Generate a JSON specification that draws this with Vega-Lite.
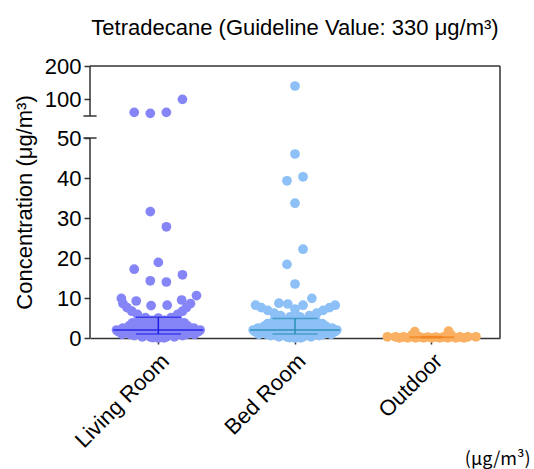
{
  "$schema": "https://vega.github.io/schema/vega-lite/v6.json",
  "width": 410,
  "height": 272,
  "autosize": "none",
  "padding": {"left": 90, "top": 66, "right": 34, "bottom": 131},
  "config": {
    "font": "Liberation Sans",
    "view": {"stroke": null},
    "axis": {"domainColor": "#333333", "tickColor": "#333333", "labelColor": "#000000", "titleColor": "#000000", "grid": false, "domainWidth": 1.5, "tickWidth": 1.5},
    "axisY": {"domain": false, "tickSize": 6, "labelFontSize": 22, "labelPadding": 3, "labelOverlap": false, "labelBound": false, "labelFlush": false, "titleFontSize": 22, "titleFontWeight": "normal", "titlePadding": 8}
  },
  "title": {"text": "Tetradecane (Guideline Value: 330 μg/m³)", "fontSize": 22, "fontWeight": "normal", "offset": 15, "color": "#000000"},
  "datasets": {
    "pts": [
      {"loc": "Living Room", "v": 100, "dx": 3}, {"loc": "Living Room", "v": 61, "dx": -3}, {"loc": "Living Room", "v": 58, "dx": -1}, {"loc": "Living Room", "v": 61, "dx": 1},
      {"loc": "Living Room", "v": 31.6, "dx": -1}, {"loc": "Living Room", "v": 27.8, "dx": 1}, {"loc": "Living Room", "v": 18.9, "dx": 0}, {"loc": "Living Room", "v": 17.2, "dx": -3}, {"loc": "Living Room", "v": 15.8, "dx": 3}, {"loc": "Living Room", "v": 14.3, "dx": -1}, {"loc": "Living Room", "v": 14.0, "dx": 1},
      {"loc": "Living Room", "v": 10.6, "dx": 4.75}, {"loc": "Living Room", "v": 9.9, "dx": -4.6}, {"loc": "Living Room", "v": 9.5, "dx": 2.9}, {"loc": "Living Room", "v": 9.25, "dx": -2.75}, {"loc": "Living Room", "v": 8.2, "dx": 1.1}, {"loc": "Living Room", "v": 8.1, "dx": -0.9},
      {"loc": "Living Room", "v": 8.6, "dx": -4.4}, {"loc": "Living Room", "v": 7.6, "dx": -3.9}, {"loc": "Living Room", "v": 6.7, "dx": -3.3}, {"loc": "Living Room", "v": 5.9, "dx": -2.6},
      {"loc": "Living Room", "v": 8.6, "dx": 4.0}, {"loc": "Living Room", "v": 7.6, "dx": 3.5}, {"loc": "Living Room", "v": 6.7, "dx": 3.0}, {"loc": "Living Room", "v": 5.9, "dx": 2.4},
      {"loc": "Living Room", "v": 5.1, "dx": -1.6}, {"loc": "Living Room", "v": 5.0, "dx": 0}, {"loc": "Living Room", "v": 5.1, "dx": 1.6},
      {"loc": "Living Room", "v": 4.5, "dx": -2.4}, {"loc": "Living Room", "v": 4.4, "dx": -0.8}, {"loc": "Living Room", "v": 4.4, "dx": 0.8}, {"loc": "Living Room", "v": 4.5, "dx": 2.4},
      {"loc": "Living Room", "v": 3.8, "dx": -3.2}, {"loc": "Living Room", "v": 3.8, "dx": -1.6}, {"loc": "Living Room", "v": 3.7, "dx": 0}, {"loc": "Living Room", "v": 3.8, "dx": 1.6}, {"loc": "Living Room", "v": 3.8, "dx": 3.2},
      {"loc": "Living Room", "v": 3.1, "dx": -3.6}, {"loc": "Living Room", "v": 3.1, "dx": -2.4}, {"loc": "Living Room", "v": 3.0, "dx": -0.8}, {"loc": "Living Room", "v": 3.0, "dx": 0.8}, {"loc": "Living Room", "v": 3.1, "dx": 2.4}, {"loc": "Living Room", "v": 3.1, "dx": 3.6},
      {"loc": "Living Room", "v": 2.5, "dx": -4.4}, {"loc": "Living Room", "v": 2.4, "dx": -3.0}, {"loc": "Living Room", "v": 2.4, "dx": -1.5}, {"loc": "Living Room", "v": 2.3, "dx": 0}, {"loc": "Living Room", "v": 2.4, "dx": 1.5}, {"loc": "Living Room", "v": 2.4, "dx": 3.0}, {"loc": "Living Room", "v": 2.5, "dx": 4.4},
      {"loc": "Living Room", "v": 2.0, "dx": -5.2}, {"loc": "Living Room", "v": 2.0, "dx": -4.2}, {"loc": "Living Room", "v": 2.0, "dx": -3.2}, {"loc": "Living Room", "v": 2.0, "dx": -2.2}, {"loc": "Living Room", "v": 2.0, "dx": -1.2}, {"loc": "Living Room", "v": 2.0, "dx": 1.2}, {"loc": "Living Room", "v": 2.0, "dx": 2.2}, {"loc": "Living Room", "v": 2.0, "dx": 3.2}, {"loc": "Living Room", "v": 2.0, "dx": 4.2}, {"loc": "Living Room", "v": 2.0, "dx": 5.2},
      {"loc": "Living Room", "v": 1.6, "dx": -5.0}, {"loc": "Living Room", "v": 1.6, "dx": -4.0}, {"loc": "Living Room", "v": 1.6, "dx": -3.0}, {"loc": "Living Room", "v": 1.6, "dx": -2.0}, {"loc": "Living Room", "v": 1.6, "dx": -1.0}, {"loc": "Living Room", "v": 1.6, "dx": 0}, {"loc": "Living Room", "v": 1.6, "dx": 1.0}, {"loc": "Living Room", "v": 1.6, "dx": 2.0}, {"loc": "Living Room", "v": 1.6, "dx": 3.0}, {"loc": "Living Room", "v": 1.6, "dx": 4.0}, {"loc": "Living Room", "v": 1.6, "dx": 5.0},
      {"loc": "Living Room", "v": 1.2, "dx": -3.5}, {"loc": "Living Room", "v": 1.2, "dx": -1.2}, {"loc": "Living Room", "v": 1.2, "dx": 1.2}, {"loc": "Living Room", "v": 1.2, "dx": 3.5},
      {"loc": "Living Room", "v": 0.9, "dx": -4.5}, {"loc": "Living Room", "v": 0.9, "dx": -3.5}, {"loc": "Living Room", "v": 0.9, "dx": -2.5}, {"loc": "Living Room", "v": 0.9, "dx": -1.5}, {"loc": "Living Room", "v": 0.9, "dx": -0.5}, {"loc": "Living Room", "v": 0.9, "dx": 0.5}, {"loc": "Living Room", "v": 0.9, "dx": 1.5}, {"loc": "Living Room", "v": 0.9, "dx": 2.5}, {"loc": "Living Room", "v": 0.9, "dx": 3.5}, {"loc": "Living Room", "v": 0.9, "dx": 4.5},
      {"loc": "Living Room", "v": 0.6, "dx": -3}, {"loc": "Living Room", "v": 0.6, "dx": -2}, {"loc": "Living Room", "v": 0.6, "dx": -1}, {"loc": "Living Room", "v": 0.6, "dx": 0}, {"loc": "Living Room", "v": 0.6, "dx": 1}, {"loc": "Living Room", "v": 0.6, "dx": 2}, {"loc": "Living Room", "v": 0.6, "dx": 3},
      {"loc": "Living Room", "v": 0.3, "dx": -2}, {"loc": "Living Room", "v": 0.3, "dx": -1}, {"loc": "Living Room", "v": 0.3, "dx": 0}, {"loc": "Living Room", "v": 0.3, "dx": 1}, {"loc": "Living Room", "v": 0.3, "dx": 2},
      {"loc": "Living Room", "v": 0.1, "dx": -0.7}, {"loc": "Living Room", "v": 0.05, "dx": 0.7}, {"loc": "Living Room", "v": 0, "dx": 0},

      {"loc": "Bed Room", "v": 140, "dx": 0}, {"loc": "Bed Room", "v": 46, "dx": 0},
      {"loc": "Bed Room", "v": 40.3, "dx": 1}, {"loc": "Bed Room", "v": 39.3, "dx": -1}, {"loc": "Bed Room", "v": 33.7, "dx": 0}, {"loc": "Bed Room", "v": 22.2, "dx": 1}, {"loc": "Bed Room", "v": 18.4, "dx": -1}, {"loc": "Bed Room", "v": 13.5, "dx": 0},
      {"loc": "Bed Room", "v": 9.9, "dx": 2.1}, {"loc": "Bed Room", "v": 8.7, "dx": -2}, {"loc": "Bed Room", "v": 8.5, "dx": -0.9}, {"loc": "Bed Room", "v": 8.2, "dx": 1.0},
      {"loc": "Bed Room", "v": 8.2, "dx": -4.9}, {"loc": "Bed Room", "v": 7.6, "dx": -4.2}, {"loc": "Bed Room", "v": 6.9, "dx": -3.4}, {"loc": "Bed Room", "v": 6.2, "dx": -2.6},
      {"loc": "Bed Room", "v": 8.2, "dx": 5.0}, {"loc": "Bed Room", "v": 7.6, "dx": 4.3}, {"loc": "Bed Room", "v": 6.9, "dx": 3.5}, {"loc": "Bed Room", "v": 6.2, "dx": 2.7},
      {"loc": "Bed Room", "v": 5.6, "dx": -1.8}, {"loc": "Bed Room", "v": 5.6, "dx": 1.8}, {"loc": "Bed Room", "v": 5.3, "dx": -0.6}, {"loc": "Bed Room", "v": 5.3, "dx": 0.6}, {"loc": "Bed Room", "v": 7.2, "dx": 0},
      {"loc": "Bed Room", "v": 4.8, "dx": -1.6}, {"loc": "Bed Room", "v": 4.7, "dx": 0}, {"loc": "Bed Room", "v": 4.8, "dx": 1.6},
      {"loc": "Bed Room", "v": 4.3, "dx": -2.6}, {"loc": "Bed Room", "v": 4.2, "dx": -0.8}, {"loc": "Bed Room", "v": 4.2, "dx": 0.8}, {"loc": "Bed Room", "v": 4.3, "dx": 2.6},
      {"loc": "Bed Room", "v": 3.6, "dx": -3.4}, {"loc": "Bed Room", "v": 3.6, "dx": -1.7}, {"loc": "Bed Room", "v": 3.5, "dx": 0}, {"loc": "Bed Room", "v": 3.6, "dx": 1.7}, {"loc": "Bed Room", "v": 3.6, "dx": 3.4},
      {"loc": "Bed Room", "v": 3.0, "dx": -3.8}, {"loc": "Bed Room", "v": 3.0, "dx": -2.5}, {"loc": "Bed Room", "v": 2.9, "dx": -0.8}, {"loc": "Bed Room", "v": 2.9, "dx": 0.8}, {"loc": "Bed Room", "v": 3.0, "dx": 2.5}, {"loc": "Bed Room", "v": 3.0, "dx": 3.8},
      {"loc": "Bed Room", "v": 2.5, "dx": -4.6}, {"loc": "Bed Room", "v": 2.4, "dx": -3.1}, {"loc": "Bed Room", "v": 2.4, "dx": -1.5}, {"loc": "Bed Room", "v": 2.3, "dx": 0}, {"loc": "Bed Room", "v": 2.4, "dx": 1.5}, {"loc": "Bed Room", "v": 2.4, "dx": 3.1}, {"loc": "Bed Room", "v": 2.5, "dx": 4.6},
      {"loc": "Bed Room", "v": 2.0, "dx": -5.2}, {"loc": "Bed Room", "v": 2.0, "dx": -4.2}, {"loc": "Bed Room", "v": 2.0, "dx": -3.2}, {"loc": "Bed Room", "v": 2.0, "dx": -2.2}, {"loc": "Bed Room", "v": 2.0, "dx": -1.2}, {"loc": "Bed Room", "v": 2.0, "dx": 1.2}, {"loc": "Bed Room", "v": 2.0, "dx": 2.2}, {"loc": "Bed Room", "v": 2.0, "dx": 3.2}, {"loc": "Bed Room", "v": 2.0, "dx": 4.2}, {"loc": "Bed Room", "v": 2.0, "dx": 5.2},
      {"loc": "Bed Room", "v": 1.6, "dx": -5.0}, {"loc": "Bed Room", "v": 1.6, "dx": -4.0}, {"loc": "Bed Room", "v": 1.6, "dx": -3.0}, {"loc": "Bed Room", "v": 1.6, "dx": -2.0}, {"loc": "Bed Room", "v": 1.6, "dx": -1.0}, {"loc": "Bed Room", "v": 1.6, "dx": 0}, {"loc": "Bed Room", "v": 1.6, "dx": 1.0}, {"loc": "Bed Room", "v": 1.6, "dx": 2.0}, {"loc": "Bed Room", "v": 1.6, "dx": 3.0}, {"loc": "Bed Room", "v": 1.6, "dx": 4.0}, {"loc": "Bed Room", "v": 1.6, "dx": 5.0},
      {"loc": "Bed Room", "v": 1.2, "dx": -3.5}, {"loc": "Bed Room", "v": 1.2, "dx": -1.2}, {"loc": "Bed Room", "v": 1.2, "dx": 1.2}, {"loc": "Bed Room", "v": 1.2, "dx": 3.5},
      {"loc": "Bed Room", "v": 0.9, "dx": -4.5}, {"loc": "Bed Room", "v": 0.9, "dx": -3.5}, {"loc": "Bed Room", "v": 0.9, "dx": -2.5}, {"loc": "Bed Room", "v": 0.9, "dx": -1.5}, {"loc": "Bed Room", "v": 0.9, "dx": -0.5}, {"loc": "Bed Room", "v": 0.9, "dx": 0.5}, {"loc": "Bed Room", "v": 0.9, "dx": 1.5}, {"loc": "Bed Room", "v": 0.9, "dx": 2.5}, {"loc": "Bed Room", "v": 0.9, "dx": 3.5}, {"loc": "Bed Room", "v": 0.9, "dx": 4.5},
      {"loc": "Bed Room", "v": 0.6, "dx": -3}, {"loc": "Bed Room", "v": 0.6, "dx": -2}, {"loc": "Bed Room", "v": 0.6, "dx": -1}, {"loc": "Bed Room", "v": 0.6, "dx": 0}, {"loc": "Bed Room", "v": 0.6, "dx": 1}, {"loc": "Bed Room", "v": 0.6, "dx": 2}, {"loc": "Bed Room", "v": 0.6, "dx": 3},
      {"loc": "Bed Room", "v": 0.3, "dx": -2}, {"loc": "Bed Room", "v": 0.3, "dx": -1}, {"loc": "Bed Room", "v": 0.3, "dx": 0}, {"loc": "Bed Room", "v": 0.3, "dx": 1}, {"loc": "Bed Room", "v": 0.3, "dx": 2},
      {"loc": "Bed Room", "v": 0.1, "dx": -0.7}, {"loc": "Bed Room", "v": 0.05, "dx": 0.7}, {"loc": "Bed Room", "v": 0, "dx": 0},

      {"loc": "Outdoor", "v": 1.6, "dx": -2.1}, {"loc": "Outdoor", "v": 1.7, "dx": 2.1}, {"loc": "Outdoor", "v": 0.8, "dx": -2.4}, {"loc": "Outdoor", "v": 0.8, "dx": 2.4},
      {"loc": "Outdoor", "v": 0.3, "dx": -5.5}, {"loc": "Outdoor", "v": 0.3, "dx": -4.5}, {"loc": "Outdoor", "v": 0.3, "dx": -3.5}, {"loc": "Outdoor", "v": 0.35, "dx": -2.5}, {"loc": "Outdoor", "v": 0.3, "dx": -1.5}, {"loc": "Outdoor", "v": 0.25, "dx": -0.5}, {"loc": "Outdoor", "v": 0.25, "dx": 0.5}, {"loc": "Outdoor", "v": 0.3, "dx": 1.5}, {"loc": "Outdoor", "v": 0.35, "dx": 2.5}, {"loc": "Outdoor", "v": 0.3, "dx": 3.5}, {"loc": "Outdoor", "v": 0.3, "dx": 4.5}, {"loc": "Outdoor", "v": 0.3, "dx": 5.5},
      {"loc": "Outdoor", "v": 0.05, "dx": -4}, {"loc": "Outdoor", "v": 0.05, "dx": -3}, {"loc": "Outdoor", "v": 0.05, "dx": -2}, {"loc": "Outdoor", "v": 0.05, "dx": -1}, {"loc": "Outdoor", "v": 0.05, "dx": 0}, {"loc": "Outdoor", "v": 0.05, "dx": 1}, {"loc": "Outdoor", "v": 0.05, "dx": 2}, {"loc": "Outdoor", "v": 0.05, "dx": 3}, {"loc": "Outdoor", "v": 0.05, "dx": 4}
    ],
    "stats": [
      {"loc": "Living Room", "median": 2.0, "q1": 1.0, "q3": 5.2},
      {"loc": "Bed Room", "median": 2.0, "q1": 1.0, "q3": 4.9},
      {"loc": "Outdoor", "median": 0.2, "q1": 0.05, "q3": 0.35}
    ],
    "one": [{}]
  },
  "layer": [
    {
      "layer": [
        {
          "data": {"name": "pts"},
          "mark": {"type": "circle", "size": 95, "opacity": 1},
          "encoding": {
            "x": {
              "field": "loc", "type": "nominal", "sort": ["Living Room", "Bed Room", "Outdoor"],
              "scale": {"type": "band", "paddingInner": 0, "paddingOuter": 0},
              "axis": {"title": "(μg/m³)", "labelAngle": -45, "labelFontSize": 22, "labelPadding": 6, "tickSize": 6, "titleFont": "Noto Sans CJK JP", "titleFontSize": 18, "titleFontWeight": "normal", "titleAlign": "right", "titleAnchor": "end", "titleX": 440, "titleY": 130, "titleBaseline": "bottom"}
            },
            "xOffset": {"field": "dx", "type": "quantitative", "scale": {"domain": [-8.5, 8.5]}},
            "y": {
              "field": "v", "type": "quantitative",
              "scale": {"domain": [0, 50, 50.0001, 200], "range": [272, 72, 50, 0], "nice": false, "zero": false},
              "axis": {"values": [0, 10, 20, 30, 40, 50, 100, 200], "title": "Concentration (μg/m³)"}
            },
            "color": {"field": "loc", "type": "nominal", "scale": {"domain": ["Living Room", "Bed Room", "Outdoor"], "range": ["#8585f7", "#8cc0f6", "#f9b062"]}, "legend": null}
          }
        },
        {
          "data": {"name": "stats"},
          "mark": {"type": "tick", "thickness": 2, "orient": "horizontal"},
          "encoding": {
            "x": {"field": "loc", "type": "nominal", "sort": ["Living Room", "Bed Room", "Outdoor"]},
            "y": {"field": "median", "type": "quantitative", "axis": {"values": [0, 10, 20, 30, 40, 50, 100, 200], "title": "Concentration (μg/m³)"}},
            "size": {"condition": {"test": "datum.loc === 'Outdoor'", "value": 45}, "value": 90},
            "color": {"condition": [{"test": "datum.loc === 'Living Room'", "value": "#1f1fe6"}, {"test": "datum.loc === 'Bed Room'", "value": "#2a8fb6"}], "value": "#f2801a"}
          }
        },
        {
          "data": {"name": "stats"},
          "mark": {"type": "rule", "strokeWidth": 1.5},
          "encoding": {
            "x": {"field": "loc", "type": "nominal", "sort": ["Living Room", "Bed Room", "Outdoor"]},
            "y": {"field": "q1", "type": "quantitative", "axis": {"values": [0, 10, 20, 30, 40, 50, 100, 200], "title": "Concentration (μg/m³)"}},
            "y2": {"field": "q3"},
            "color": {"condition": [{"test": "datum.loc === 'Living Room'", "value": "#1f1fe6"}, {"test": "datum.loc === 'Bed Room'", "value": "#2a8fb6"}], "value": "#f2801a"}
          }
        },
        {
          "data": {"name": "stats"},
          "mark": {"type": "tick", "thickness": 1.5, "orient": "horizontal"},
          "encoding": {
            "x": {"field": "loc", "type": "nominal", "sort": ["Living Room", "Bed Room", "Outdoor"]},
            "y": {"field": "q1", "type": "quantitative", "axis": {"values": [0, 10, 20, 30, 40, 50, 100, 200], "title": "Concentration (μg/m³)"}},
            "size": {"condition": {"test": "datum.loc === 'Outdoor'", "value": 22}, "value": 45},
            "color": {"condition": [{"test": "datum.loc === 'Living Room'", "value": "#1f1fe6"}, {"test": "datum.loc === 'Bed Room'", "value": "#2a8fb6"}], "value": "#f2801a"}
          }
        },
        {
          "data": {"name": "stats"},
          "mark": {"type": "tick", "thickness": 1.5, "orient": "horizontal"},
          "encoding": {
            "x": {"field": "loc", "type": "nominal", "sort": ["Living Room", "Bed Room", "Outdoor"]},
            "y": {"field": "q3", "type": "quantitative", "axis": {"values": [0, 10, 20, 30, 40, 50, 100, 200], "title": "Concentration (μg/m³)"}},
            "size": {"condition": {"test": "datum.loc === 'Outdoor'", "value": 22}, "value": 45},
            "color": {"condition": [{"test": "datum.loc === 'Living Room'", "value": "#1f1fe6"}, {"test": "datum.loc === 'Bed Room'", "value": "#2a8fb6"}], "value": "#f2801a"}
          }
        }
      ]
    },
    {
      "data": {"name": "one"},
      "layer": [
        {
          "mark": {"type": "rule", "color": "#333333", "strokeWidth": 1.5},
          "encoding": {
            "x": {"datum": 0, "type": "quantitative", "scale": {"domain": [0, 1]}, "axis": null},
            "y": {"datum": 0, "type": "quantitative", "axis": {"values": [0, 10, 20, 30, 40, 50, 100, 200], "title": "Concentration (μg/m³)"}},
            "y2": {"datum": 50}
          }
        },
        {
          "mark": {"type": "rule", "color": "#333333", "strokeWidth": 1.5},
          "encoding": {
            "x": {"datum": 0, "type": "quantitative", "axis": null},
            "y": {"datum": 50.0001, "type": "quantitative", "axis": {"values": [0, 10, 20, 30, 40, 50, 100, 200], "title": "Concentration (μg/m³)"}},
            "y2": {"datum": 200}
          }
        },
        {
          "mark": {"type": "rule", "color": "#333333", "strokeWidth": 1.5},
          "encoding": {
            "x": {"datum": -0.016, "type": "quantitative", "axis": null},
            "x2": {"datum": 0.016},
            "y": {"datum": 50, "type": "quantitative", "axis": {"values": [0, 10, 20, 30, 40, 50, 100, 200], "title": "Concentration (μg/m³)"}}
          }
        },
        {
          "mark": {"type": "rule", "color": "#333333", "strokeWidth": 1.5},
          "encoding": {
            "x": {"datum": -0.016, "type": "quantitative", "axis": null},
            "x2": {"datum": 0.016},
            "y": {"datum": 50.0001, "type": "quantitative", "axis": {"values": [0, 10, 20, 30, 40, 50, 100, 200], "title": "Concentration (μg/m³)"}}
          }
        },
        {
          "mark": {"type": "rule", "color": "#333333", "strokeWidth": 1.5},
          "encoding": {
            "x": {"datum": 0, "type": "quantitative", "axis": null},
            "x2": {"datum": 1},
            "y": {"datum": 200, "type": "quantitative", "axis": {"values": [0, 10, 20, 30, 40, 50, 100, 200], "title": "Concentration (μg/m³)"}}
          }
        },
        {
          "mark": {"type": "rule", "color": "#333333", "strokeWidth": 1.5},
          "encoding": {
            "x": {"datum": 1, "type": "quantitative", "axis": null},
            "y": {"datum": 0, "type": "quantitative", "axis": {"values": [0, 10, 20, 30, 40, 50, 100, 200], "title": "Concentration (μg/m³)"}},
            "y2": {"datum": 200}
          }
        }
      ]
    }
  ],
  "resolve": {"scale": {"x": "independent"}}
}
